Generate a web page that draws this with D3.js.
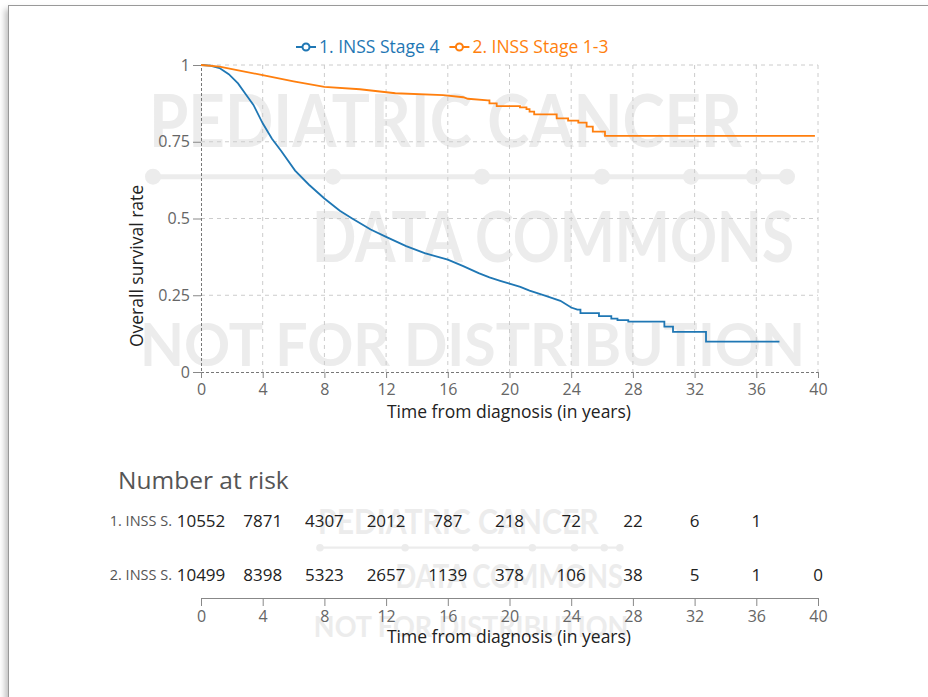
<!DOCTYPE html>
<html>
<head>
<meta charset="utf-8">
<script src="https://cdn.jsdelivr.net/npm/d3@7"></script>
<style>
  body { margin: 0; background: #fff; font-family: "Open Sans", Lato, sans-serif; overflow: hidden; }
  #frame { position: absolute; left: 8px; top: 5px; width: 1000px; height: 1000px;
           border: 1.5px solid #999; box-shadow: -3px 4px 6px rgba(0,0,0,0.25); }
  #chart { position: absolute; left: 0; top: 0; }
</style>
</head>
<body>
<div id="frame"></div>
<div id="chart"></div>
<script>
var width = 928,
    height = 697;

var seriesNames = ["1. INSS Stage 4", "2. INSS Stage 1-3"];
var shortNames = ["1. INSS S.", "2. INSS S."];
var colors = ["#1f77b4", "#ff7f0e"];

// Kaplan-Meier estimates (years, survival);
// a repeated time is a visible step drop
var stage4Time = [0, 0.6, 1.2, 1.8, 2.4, 2.9, 3.4, 4.0, 4.6, 5.2, 6.1, 7.0, 8.0, 9.0, 9.8, 11.0, 12.0, 13.3, 14.5, 16.0, 17.0, 18.0, 18.7, 19.4, 20.0, 20.7, 21.3, 22.3, 23.3, 24.0, 24.4, 24.6, 24.6, 25.8, 25.8, 26.6, 26.6, 27.0, 27.0, 27.7, 27.7, 30.04, 30.04, 30.6, 30.6, 32.74, 32.74, 37.5];
var stage4Surv = [1, 0.998, 0.99, 0.97, 0.94, 0.905, 0.87, 0.81, 0.76, 0.72, 0.656, 0.61, 0.565, 0.525, 0.5, 0.464, 0.44, 0.41, 0.387, 0.366, 0.345, 0.322, 0.308, 0.297, 0.288, 0.277, 0.265, 0.249, 0.232, 0.21, 0.203, 0.203, 0.192, 0.192, 0.182, 0.182, 0.174, 0.174, 0.169, 0.169, 0.164, 0.164, 0.148, 0.148, 0.131, 0.131, 0.099, 0.099];
var stage13Time = [0, 1.2, 2.5, 4.0, 6.0, 8.0, 10.3, 12.6, 15.7, 17.0, 17.3, 18.6, 18.7, 18.7, 19.17, 19.17, 20.68, 20.68, 21.1, 21.1, 21.3, 21.3, 21.6, 21.6, 23.06, 23.06, 23.8, 23.8, 24.46, 24.46, 25.0, 25.0, 25.4, 25.4, 26.19, 26.19, 39.8];
var stage13Surv = [1, 0.995, 0.982, 0.967, 0.947, 0.929, 0.921, 0.908, 0.902, 0.895, 0.89, 0.885, 0.885, 0.875, 0.875, 0.866, 0.866, 0.862, 0.862, 0.856, 0.856, 0.848, 0.848, 0.839, 0.839, 0.826, 0.826, 0.819, 0.819, 0.812, 0.812, 0.799, 0.799, 0.783, 0.783, 0.769, 0.769];

var xTicks = [0, 4, 8, 12, 16, 20, 24, 28, 32, 36, 40];
var yTicks = [0, 0.25, 0.5, 0.75, 1];
var riskStage4 = [10552, 7871, 4307, 2012, 787, 218, 72, 22, 6, 1, null];
var riskStage13 = [10499, 8398, 5323, 2657, 1139, 378, 106, 38, 5, 1, 0];

var wmLines = ["PEDIATRIC CANCER", "DATA COMMONS", "NOT FOR DISTRIBUTION"];
var wmDots = [153, 333, 482, 602, 691, 754, 787];

var x = d3.scaleLinear().domain([0, 40]).range([201, 818]);
var y = d3.scaleLinear().domain([0, 1]).range([372, 65]);

var svg = d3.select("#chart").append("svg")
    .attr("width", width)
    .attr("height", height);

// Watermark, big one behind the plot, small copy behind the risk table
function drawWatermark(g) {
  var c = "#ececec";
  g.append("text").attr("x", 149).attr("y", 147)
      .attr("textLength", 593).attr("lengthAdjust", "spacingAndGlyphs")
      .style("font-family", "Lato, sans-serif")
      .style("font-size", "72px").style("font-weight", "bold").style("fill", c)
      .text(wmLines[0]);
  g.append("line").attr("x1", 150).attr("x2", 790).attr("y1", 176.7).attr("y2", 176.7)
      .style("stroke", c).style("stroke-width", 5);
  g.selectAll(".wmDot").data(wmDots).enter().append("circle")
      .attr("cx", function(d) { return d; }).attr("cy", 176.7).attr("r", 8)
      .style("fill", c);
  g.append("text").attr("x", 312).attr("y", 262)
      .attr("textLength", 482).attr("lengthAdjust", "spacingAndGlyphs")
      .style("font-family", "Lato, sans-serif")
      .style("font-size", "70px").style("font-weight", "bold").style("fill", c)
      .text(wmLines[1]);
  g.append("text").attr("x", 140).attr("y", 366)
      .attr("textLength", 665).attr("lengthAdjust", "spacingAndGlyphs")
      .style("font-family", "Lato, sans-serif")
      .style("font-size", "60px").style("font-weight", "bold").style("fill", c)
      .text(wmLines[2]);
}
drawWatermark(svg.append("g").attr("id", "wmBig"));
drawWatermark(svg.append("g").attr("id", "wmSmall")
    .attr("transform", "translate(247.6,464.1)scale(0.473)"));

// Grid
var grid = svg.append("g").attr("id", "grid");
grid.selectAll(".vgrid").data(xTicks.slice(1)).enter().append("line")
    .attr("x1", function(d) { return x(d); }).attr("x2", function(d) { return x(d); })
    .attr("y1", y(1)).attr("y2", y(0))
    .style("stroke", "#ccc").style("stroke-dasharray", "4,4");
grid.selectAll(".hgrid").data(yTicks.slice(1)).enter().append("line")
    .attr("x1", x(0)).attr("x2", x(40))
    .attr("y1", function(d) { return y(d); }).attr("y2", function(d) { return y(d); })
    .style("stroke", "#ccc").style("stroke-dasharray", "4,4");

// Axes
var xAxis = svg.append("g")
    .attr("transform", "translate(0," + y(0) + ")")
    .call(d3.axisBottom(x).tickValues(xTicks).tickSize(6).tickPadding(6).tickFormat(d3.format("d")));
var yAxis = svg.append("g")
    .attr("transform", "translate(" + x(0) + ",0)")
    .call(d3.axisLeft(y).tickValues(yTicks).tickSize(8).tickPadding(3).tickFormat(function(d) { return String(d); }));
[xAxis, yAxis].forEach(function(a) {
  a.select(".domain").style("stroke", "#777").style("stroke-dasharray", "3,2");
  a.selectAll(".tick line").style("stroke", "#888");
  a.selectAll(".tick text").style("fill", "#666").style("font-size", "16px").style("font-family", "'Open Sans', sans-serif");
});

svg.append("text")
    .attr("x", 509).attr("y", 418)
    .attr("text-anchor", "middle")
    .style("font-size", "17.5px").style("fill", "#222")
    .text("Time from diagnosis (in years)");
svg.append("text")
    .attr("transform", "translate(143,266)rotate(-90)")
    .attr("text-anchor", "middle")
    .style("font-size", "17.5px").style("fill", "#222")
    .text("Overall survival rate");

// Survival curves
var line = d3.line()
    .x(function(d) { return x(d[0]); })
    .y(function(d) { return y(d[1]); });
var curves = [d3.zip(stage4Time, stage4Surv), d3.zip(stage13Time, stage13Surv)];
svg.selectAll(".km").data(curves).enter().append("path")
    .attr("class", "km")
    .attr("d", line)
    .style("fill", "none")
    .style("stroke", function(d, i) { return colors[i]; })
    .style("stroke-width", 1.8);

// Legend
var legend = svg.append("g").attr("id", "legend");
var lx = 296;
seriesNames.forEach(function(name, i) {
  var item = legend.append("g").attr("transform", "translate(" + lx + ",47)");
  item.append("line").attr("x1", 0).attr("x2", 20).attr("y1", 0).attr("y2", 0)
      .style("stroke", colors[i]).style("stroke-width", 2);
  item.append("circle").attr("cx", 10).attr("cy", 0).attr("r", 3.5)
      .style("fill", "#fff").style("stroke", colors[i]).style("stroke-width", 2);
  var t = item.append("text").attr("x", 23).attr("y", 6)
      .style("font-size", "17.5px").style("fill", colors[i])
      .text(name);
  lx += 23 + t.node().getComputedTextLength() + 10;
});

// Number at risk table
svg.append("text")
    .attr("x", 118).attr("y", 489)
    .style("font-size", "24.5px").style("fill", "#555")
    .text("Number at risk");

var rows = [riskStage4, riskStage13];
var rowY = [527, 581];
rows.forEach(function(vals, r) {
  svg.append("text")
      .attr("x", 172).attr("y", rowY[r] - 1)
      .attr("text-anchor", "end")
      .style("font-size", "14.5px").style("fill", "#555")
      .text(shortNames[r]);
  svg.selectAll(".risk" + r).data(vals).enter()
    .filter(function(d) { return d !== null; })
    .append("text")
      .attr("x", function(d) { return x(xTicks[vals.indexOf(d)]); })
      .attr("y", rowY[r])
      .attr("text-anchor", "middle")
      .style("font-size", "17px").style("fill", "#222")
      .text(function(d) { return d; });
});

var riskAxis = svg.append("g")
    .attr("transform", "translate(0,598)")
    .call(d3.axisBottom(x).tickValues(xTicks).tickSize(8).tickPadding(5).tickSizeOuter(8).tickFormat(d3.format("d")));
riskAxis.select(".domain").style("stroke", "#888");
riskAxis.selectAll(".tick line").style("stroke", "#888");
riskAxis.selectAll(".tick text").style("fill", "#666").style("font-size", "16px").style("font-family", "'Open Sans', sans-serif");
svg.append("text")
    .attr("x", 509).attr("y", 643)
    .attr("text-anchor", "middle")
    .style("font-size", "17.5px").style("fill", "#222")
    .text("Time from diagnosis (in years)");
</script>
</body>
</html>
